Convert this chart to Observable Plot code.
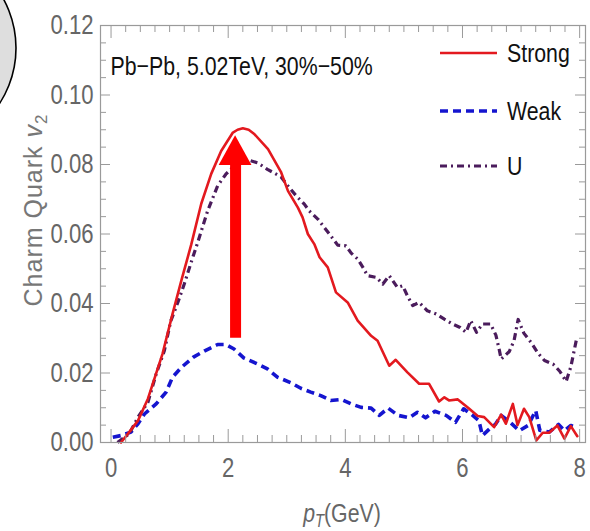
<!DOCTYPE html>
<html><head><meta charset="utf-8">
<script src="https://cdn.jsdelivr.net/npm/d3@7"></script>
<script src="https://cdn.jsdelivr.net/npm/@observablehq/plot@0.6"></script>
<style>
body{margin:0;background:#fff;}
#chart{position:relative;width:590px;height:531px;}
</style></head><body><div id="chart"></div>
<script>
// ---- data ----
const strongX = [0.17,0.31,0.46,0.63,0.88,1.05,1.2,1.37,1.54,1.71,1.88,2.08,2.16,2.25,2.35,2.45,2.68,2.9,3.02,3.19,3.27,3.36,3.47,3.56,3.7,3.84,4.04,4.21,4.44,4.55,4.75,4.86,5.06,5.26,5.43,5.6,5.69,5.77,5.92,6.09,6.26,6.37,6.54,6.66,6.74,6.86,6.94,7.05,7.14,7.26,7.37,7.48,7.62,7.74,7.85,7.96];
const strongY = [0,0.003,0.0063,0.0126,0.0256,0.037,0.0466,0.057,0.0687,0.0773,0.0839,0.0892,0.0900,0.0904,0.0900,0.0887,0.0844,0.0779,0.0724,0.0676,0.0648,0.060,0.0571,0.0533,0.0504,0.0432,0.0403,0.0351,0.0307,0.0293,0.0221,0.0238,0.0202,0.0169,0.0169,0.0118,0.013,0.0121,0.0124,0.0101,0.0076,0.0073,0.0044,0.008,0.0054,0.0111,0.005,0.0097,0.0073,0.0006,0.0028,0.0028,0.0049,0.0011,0.0047,0.0018];

const weakX = [0.03,0.17,0.34,0.46,0.57,0.77,0.94,1.05,1.2,1.4,1.6,1.82,1.96,2.1,2.27,2.5,2.67,2.84,3.07,3.24,3.41,3.58,3.75,3.93,4.1,4.27,4.44,4.58,4.73,4.9,5.09,5.23,5.37,5.53,5.72,5.88,6.02,6.16,6.28,6.34,6.46,6.56,6.66,6.8,6.97,7.12,7.25,7.32,7.48,7.64,7.74,7.85,7.96];
const weakY = [0.0015,0.002,0.003,0.0054,0.0082,0.0111,0.0145,0.0188,0.0216,0.0245,0.0264,0.0282,0.0282,0.0269,0.0243,0.0226,0.0212,0.0188,0.0172,0.0156,0.0145,0.0135,0.0121,0.0124,0.0111,0.0101,0.0099,0.0078,0.0099,0.0078,0.0071,0.0087,0.0071,0.009,0.0078,0.0058,0.0097,0.008,0.0063,0.002,0.0039,0.0052,0.0078,0.006,0.0034,0.0049,0.0092,0.0035,0.003,0.0052,0.0034,0.0049,0.0042];

const uX = [0.11,0.31,0.46,0.63,0.77,0.91,1.02,1.14,1.25,1.38,1.48,1.65,1.82,1.96,2.16,2.36,2.5,2.67,2.9,3.04,3.16,3.3,3.38,3.53,3.64,3.75,3.87,4.01,4.1,4.21,4.3,4.38,4.53,4.64,4.75,4.89,4.98,5.06,5.15,5.26,5.4,5.55,5.69,5.83,5.96,6.06,6.14,6.24,6.34,6.48,6.57,6.63,6.66,6.8,6.88,6.95,7.05,7.17,7.29,7.4,7.55,7.66,7.77,7.85,7.95];
const uY = [0,0.0025,0.0073,0.0116,0.0197,0.0264,0.035,0.0403,0.0456,0.0525,0.0576,0.0667,0.0739,0.0772,0.0805,0.0812,0.0805,0.0786,0.0765,0.0734,0.071,0.0686,0.0667,0.0643,0.0619,0.0595,0.0568,0.0566,0.0545,0.0528,0.0504,0.048,0.0475,0.0456,0.048,0.0446,0.0451,0.0422,0.0394,0.0403,0.0379,0.037,0.0355,0.0341,0.0331,0.0317,0.0351,0.0317,0.0341,0.0341,0.0309,0.0265,0.024,0.0262,0.0293,0.0354,0.0314,0.0288,0.0257,0.0236,0.0225,0.0205,0.0176,0.0218,0.03];

const seriesNames = ["Strong", "Weak", "U"];
const xTicks = [0, 2, 4, 6, 8];
const yTicks = [0, 0.02, 0.04, 0.06, 0.08, 0.10, 0.12];
const annotation = "Pb\u2212Pb, 5.02TeV, 30%\u221250%";
const yLabel = ["Charm Quark ", "v", "2"];
const xLabel = ["p", "T", "(GeV)"];

// arrow annotation (data units)
const arrowX = 2.126;
const arrowYStart = 0.03;
const arrowHeadBase = 0.0797;
const arrowTip = 0.0883;
const arrowHalfWidth = 0.28;

// ---- styling ----
const FONT = "'Liberation Sans',Arial,sans-serif";
const SQ = 0.82; // horizontal squeeze (narrow look)
const W = 590, H = 531, mL = 100, mR = 5, mT = 25, mB = 89;
const innerH = H - mT - mB;
const innerW = W - mL - mR;
const RED = "#e3191f", BLUE = "#1515cf", PURPLE = "#4b1c5c", AXIS = "#9a9a9a", LBL = "#666";
const styles = [
  {stroke: RED, strokeWidth: 2.6, strokeDasharray: null},
  {stroke: BLUE, strokeWidth: 3.6, strokeDasharray: "8,5"},
  {stroke: PURPLE, strokeWidth: 3.2, strokeDasharray: "7,4,2,4"}
];

const rows = (xs, ys) => xs.map((x, i) => ({x, y: ys[i]}));
const xMinor = d3.range(0, 8.001, 0.25).filter(v => !xTicks.includes(v));
const yMinor = d3.range(0, 0.1201, 0.005).filter(v => !yTicks.some(t => Math.abs(t - v) < 1e-9));
const head = [
  {x: arrowX - arrowHalfWidth, y: arrowHeadBase},
  {x: arrowX, y: arrowTip},
  {x: arrowX + arrowHalfWidth, y: arrowHeadBase}
];

const plot = Plot.plot({
  width: W, height: H,
  marginLeft: mL, marginRight: mR, marginTop: mT, marginBottom: mB,
  x: {domain: [-0.18, 8.1]},
  y: {domain: [0, 0.12]},
  style: {fontFamily: FONT, background: "transparent", overflow: "visible"},
  marks: [
    Plot.line(rows(weakX, weakY), {x: "x", y: "y", ...styles[1], strokeLinecap: "butt"}),
    Plot.line(rows(uX, uY), {x: "x", y: "y", ...styles[2], strokeLinecap: "butt"}),
    Plot.line(rows(strongX, strongY), {x: "x", y: "y", ...styles[0]}),
    Plot.ruleX([arrowX], {y1: arrowYStart, y2: arrowHeadBase + 0.0003, stroke: "#ff0000", strokeWidth: 11, strokeLinecap: "butt"}),
    Plot.areaY(head, {x: "x", y1: arrowHeadBase, y2: "y", fill: "#ff0000", curve: "linear"}),
    Plot.frame({stroke: AXIS, strokeWidth: 1.2}),
    // inward ticks: bottom & top
    Plot.ruleX(xTicks, {insetTop: innerH - 13, stroke: AXIS}),
    Plot.ruleX(xMinor, {insetTop: innerH - 7, stroke: AXIS}),
    Plot.ruleX(xTicks, {insetBottom: innerH - 13, stroke: AXIS}),
    Plot.ruleX(xMinor, {insetBottom: innerH - 7, stroke: AXIS}),
    // inward ticks: left & right
    Plot.ruleY(yTicks, {insetRight: innerW - 10, stroke: AXIS}),
    Plot.ruleY(yMinor, {insetRight: innerW - 6, stroke: AXIS}),
    Plot.ruleY(yTicks, {insetLeft: innerW - 10, stroke: AXIS}),
    Plot.ruleY(yMinor, {insetLeft: innerW - 6, stroke: AXIS}),
    Plot.axisX(xTicks, {tickSize: 0, tickPadding: 15, fontSize: 27, fill: LBL, label: null, tickFormat: d => String(d)}),
    Plot.axisY(yTicks, {tickSize: 0, tickPadding: 7, fontSize: 27, fill: LBL, label: null, tickFormat: d3.format(".2f")}),
    Plot.text([annotation], {frameAnchor: "top-left", dx: 10, dy: 41, lineAnchor: "middle", textAnchor: "start", fontSize: 26, fill: "#111"})
  ]
});

const svg = d3.select(plot);
// narrow look for Plot's own texts: squeeze each around its anchor
svg.selectAll("text").each(function () {
  const t = this.getAttribute("transform") || "";
  const x = +(this.getAttribute("x") || 0), y = +(this.getAttribute("y") || 0);
  if (this.hasAttribute("x")) this.removeAttribute("x");
  this.setAttribute("transform", `${t} translate(${x},0) scale(${SQ},1)`);
});

// decorative circle at top-left
svg.insert("circle", ":first-child")
  .attr("cx", -86).attr("cy", 48).attr("r", 102)
  .attr("fill", "#dedede").attr("stroke", "#000").attr("stroke-width", 1.6);

// legend
const lg = svg.append("g");
const legendY = [53, 111, 166];
seriesNames.forEach((name, i) => {
  const s = styles[i];
  lg.append("line")
    .attr("x1", 440).attr("x2", 497).attr("y1", legendY[i]).attr("y2", legendY[i])
    .attr("stroke", s.stroke).attr("stroke-width", s.strokeWidth)
    .attr("stroke-dasharray", s.strokeDasharray);
  lg.append("text")
    .attr("transform", `translate(507,${legendY[i]}) scale(${SQ},1)`)
    .attr("dy", "0.35em").attr("text-anchor", "start")
    .attr("font-size", 26).attr("font-family", FONT).attr("fill", "#111")
    .text(name);
});

// y-axis label
const yl = svg.append("text")
  .attr("transform", "translate(33,210) rotate(-90)")
  .attr("text-anchor", "middle").attr("dy", "0.35em")
  .attr("font-family", FONT).attr("font-size", 25)
  .attr("letter-spacing", 1)
  .attr("fill", "#777");
yl.append("tspan").text(yLabel[0]);
yl.append("tspan").attr("font-style", "italic").text(yLabel[1]);
yl.append("tspan").attr("font-size", 17).attr("dy", "0.3em").text(yLabel[2]);

// x-axis label
const xl = svg.append("text")
  .attr("transform", `translate(342,522) scale(${SQ},1)`)
  .attr("text-anchor", "middle")
  .attr("font-family", FONT).attr("font-size", 26)
  .attr("fill", LBL);
xl.append("tspan").attr("font-style", "italic").text(xLabel[0]);
xl.append("tspan").attr("font-style", "italic").attr("font-size", 18).attr("dy", 5).text(xLabel[1]);
xl.append("tspan").attr("dy", -5).text(xLabel[2]);

document.getElementById("chart").appendChild(plot);
</script></body></html>
